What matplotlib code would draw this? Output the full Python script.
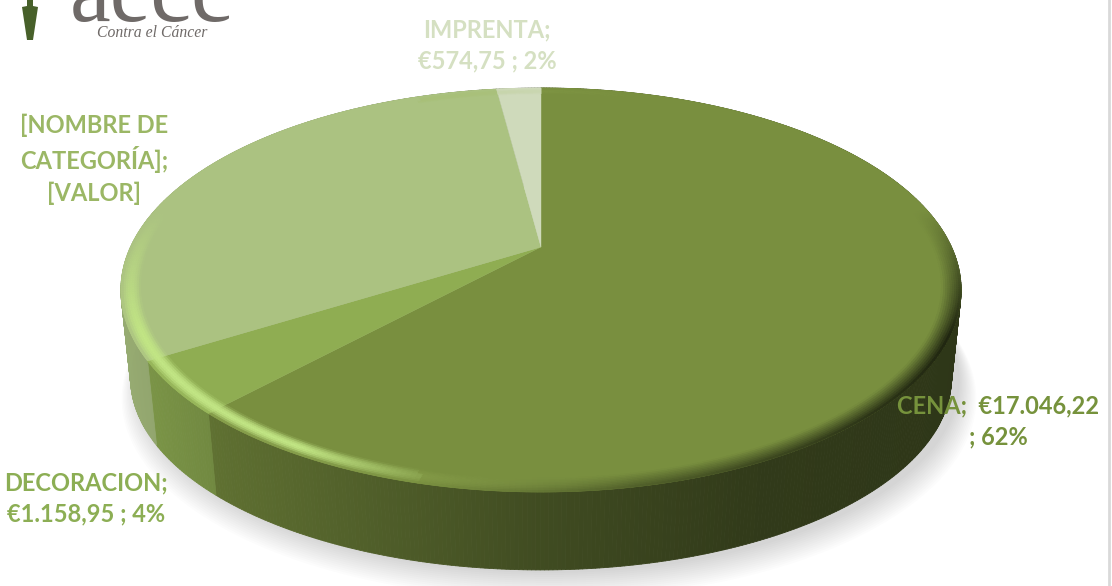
import numpy as np
import matplotlib
matplotlib.use("Agg")
import matplotlib.pyplot as plt
from matplotlib.collections import PolyCollection

# slices, clockwise from 12 o'clock
categories = ["CENA", "DECORACION", "[NOMBRE DE CATEGORÍA]", "IMPRENTA"]
values = [17046.22, 1158.95, 8714.0, 574.75]
label_texts = ["CENA;  €17.046,22\n; 62%",
               "DECORACION;\n€1.158,95 ; 4%",
               "[NOMBRE DE\nCATEGORÍA];\n[VALOR]",
               "IMPRENTA;\n€574,75 ; 2%"]
top_colors = ["#798f3f", "#8fad52", "#abc281", "#cfdabb"]
label_colors = ["#76923c", "#8cae54", "#9bb765", "#d5e0c2"]
label_pos = [(998, 421), (86, 498), (94, 159), (487, 45)]

W, H = 1112, 586
fig = plt.figure(figsize=(W / 100, H / 100), dpi=100)
ax = fig.add_axes([0, 0, 1, 1])
ax.set_xlim(0, W)
ax.set_ylim(H, 0)
ax.axis("off")


# tilted circle -> screen, the centre ends up above the middle of the ellipse
def project(r, ang):
    u = r * np.sin(ang)
    v = r * np.cos(ang)
    d = 0.2129 * v + 1
    return 541 + 410.5 * u / d, (-140.27 * v + 247) / d


def project_low(r, ang):
    x, y = project(r, ang)
    return 541 + 0.977 * (x - 541), 378 + 0.95 * (y - 290)


def shade(x):
    return np.interp(x, [122, 230, 540, 750, 961], [0.88, 0.77, 0.53, 0.41, 0.38])


def rgb(c):
    return np.array(matplotlib.colors.to_rgb(c))


# soft shadow below the disc
ang_all = np.linspace(0, 2 * np.pi, 240)
for i in range(14):
    sx, sy = project_low(1 + i * 0.003, ang_all)
    ax.fill(sx + 8, sy + 3 + i * 1.1, color="#808080", alpha=0.022, lw=0, zorder=1)

edges = np.cumsum([0] + values) / sum(values) * 2 * np.pi

# side wall, cut in thin strips so the shading can run left to right
polys, cols = [], []
for k in range(len(values)):
    base = rgb(top_colors[k])
    a = np.linspace(edges[k], edges[k + 1], max(int((edges[k + 1] - edges[k]) * 120), 2))
    x0, y0 = project(1, a)
    x1, y1 = project_low(1, a)
    for j in range(len(a) - 1):
        polys.append([(x0[j], y0[j]), (x0[j + 1], y0[j + 1]), (x1[j + 1], y1[j + 1]), (x1[j], y1[j])])
        cols.append(base * shade((x0[j] + x0[j + 1]) / 2))
ax.add_collection(PolyCollection(polys, facecolors=cols, edgecolors=cols, linewidths=0.6, zorder=2))

# top of the disc
for k in range(len(values)):
    a = np.linspace(edges[k], edges[k + 1], 200)
    x, y = project(1, a)
    cx, cy = project(0, 0)
    ax.fill(np.r_[cx, x], np.r_[cy, y], color=top_colors[k], lw=0.3, zorder=3)

# bevel on the front rim: light on the left, dark on the right
polys, cols = [], []
radii = np.linspace(0.955, 1.0, 10)
for k in range(len(values)):
    base = rgb(top_colors[k])
    a = np.linspace(edges[k], edges[k + 1], max(int((edges[k + 1] - edges[k]) * 90), 2))
    for m in range(len(radii) - 1):
        t = np.sin(np.pi * (m + 0.5) / (len(radii) - 1))
        xa, ya = project(radii[m], a)
        xb, yb = project(radii[m + 1], a)
        for j in range(len(a) - 1):
            mid = (a[j] + a[j + 1]) / 2
            front = np.clip((-np.cos(mid) + 0.2) * 1.6, 0, 1)
            xm = (xa[j] + xa[j + 1]) / 2
            edge = (m + 0.5) / (len(radii) - 1)
            if xm < 420:
                # light band fades out towards the middle of the front
                fade = np.interp(xm, [122, 300, 420], [1.0, 1.0, 0.25])
                c = base + (np.array([0.76, 0.90, 0.52]) - base) * t * front * fade
            else:
                dark = np.interp(xm, [420, 640, 961], [0.0, 0.35, 0.8]) * front
                c = base * (1 - dark * edge)
                if xm < 640:
                    c = c + (np.array([0.62, 0.72, 0.36]) - c) * t * 0.25 * (640 - xm) / 220
            polys.append([(xa[j], ya[j]), (xa[j + 1], ya[j + 1]), (xb[j + 1], yb[j + 1]), (xb[j], yb[j])])
            cols.append(c)
ax.add_collection(PolyCollection(polys, facecolors=cols, edgecolors=cols, linewidths=0.5, zorder=4))

# data labels
for txt, pos, col in zip(label_texts, label_pos, label_colors):
    ax.text(pos[0], pos[1], txt, color=col, family="Lato", weight="bold", fontsize=17,
            ha="center", va="center", linespacing=1.42, zorder=6)

# logo, cut by the top of the picture
ax.fill([27, 33, 33, 38, 33, 27, 22, 27], [0, 0, 6, 7, 40, 40, 7, 6], color="#47602a", lw=0, zorder=6)
ax.text(151, 21, "aecc", color="#6f6a68", family="Liberation Serif", fontsize=66,
        ha="center", va="baseline", zorder=6, clip_on=True)
ax.text(152, 33, "Contra el Cáncer", color="#6f6a68", family="Liberation Serif", style="italic",
        fontsize=11.3, ha="center", va="center", zorder=6)

# edge of the page on the right
ax.plot([1109, 1109], [0, H], color="#d9d9d9", lw=2, zorder=6)

fig.savefig("out.png", dpi=100)
